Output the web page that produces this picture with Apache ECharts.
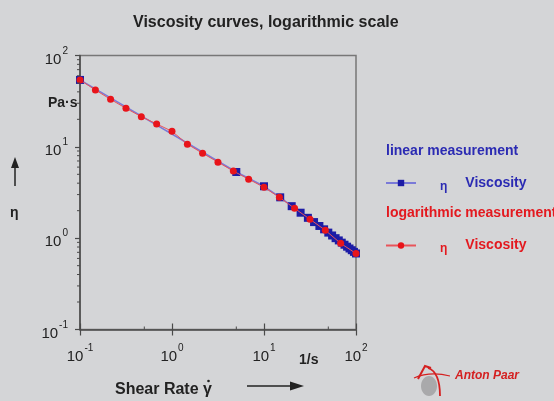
<!DOCTYPE html>
<html>
<head>
<meta charset="utf-8">
<script src="https://cdn.jsdelivr.net/npm/echarts@6/dist/echarts.min.js"></script>
<style>
html,body{margin:0;padding:0;background:#d4d5d7;}
#chart{width:554px;height:401px;}
</style>
</head>
<body>
<div id="chart"></div>
<script>
// logarithmic measurement (6 points per decade)
const xLog = [0.1, 0.147, 0.215, 0.316, 0.464, 0.681, 1, 1.47, 2.15, 3.16, 4.64, 6.81, 10, 14.7, 21.5, 31.6, 46.4, 68.1, 100];
const etaLog = [53.9, 41.9, 33.1, 26.4, 21.4, 17.8, 14.8, 10.7, 8.5, 6.8, 5.43, 4.43, 3.6, 2.8, 2.12, 1.61, 1.22, 0.877, 0.68];
// linear measurement
const xLin = [0.1, 5, 10, 15, 20, 25, 30, 35, 40, 45, 50, 55, 60, 65, 70, 75, 80, 85, 90, 95, 100];
const etaLin = [54, 5.3, 3.7, 2.8, 2.24, 1.90, 1.67, 1.50, 1.36, 1.25, 1.15, 1.07, 1.00, 0.945, 0.893, 0.848, 0.807, 0.771, 0.738, 0.708, 0.68];
// axis ticks
const decadeExponents = ['-1', '0', '1', '2']; // for 0.1, 1, 10, 100
const yMinorTicks = [0.2,0.3,0.4,0.5,0.6,0.7,0.8,0.9, 2,3,4,5,6,7,8,9, 20,30,40,50,60,70,80,90];
const xMinorTicks = [0.5, 5, 50];
const axisMin = 0.1, axisMax = 100;

const FONT = 'Liberation Sans, Arial, sans-serif';
const BLUE = '#1c1ca6', BLUE_TXT = '#2b2bb3', BLUE_LINE = '#7a7ad8';
const RED = '#e8141a', RED_TXT = '#e3191f', RED_LINE = '#e8545a';
const AX = '#4a4a4a';

function expLabel(v) {
  const i = Math.round(Math.log10(v)) + 1;
  return '{b|10}{s|' + decadeExponents[i] + '}';
}
const labelRich = {
  b: {fontSize: 15, fontFamily: FONT, color: '#222', padding: [8, 0, 0, 0]},
  s: {fontSize: 10, fontFamily: FONT, color: '#222', padding: [0, 0, 9, 1]}
};

const chart = echarts.init(document.getElementById('chart'));
const option = {
  backgroundColor: '#d4d5d7',
  animation: false,
  title: {
    text: 'Viscosity curves, logarithmic scale',
    left: 128, top: 10,
    textStyle: {fontSize: 16, fontWeight: 'bold', fontFamily: FONT, color: '#222'}
  },
  grid: {left: 80, right: 198, top: 55.5, bottom: 71.5, show: true, borderColor: '#777', borderWidth: 1.5, backgroundColor: 'transparent'},
  xAxis: [{
    type: 'log', logBase: 10, min: axisMin, max: axisMax,
    axisLine: {lineStyle: {color: AX, width: 1.5}},
    axisTick: {length: 6, lineStyle: {color: AX, width: 1.2}},
    splitLine: {show: false},
    axisLabel: {margin: 12, formatter: expLabel, rich: labelRich}
  }, {
    type: 'log', logBase: 10, min: axisMin, max: axisMax, position: 'bottom',
    axisLine: {show: false},
    axisTick: {inside: true, length: 6, lineStyle: {color: AX, width: 1.2}},
    axisLabel: {show: false}, splitLine: {show: false}
  }],
  yAxis: {
    type: 'log', logBase: 10, min: axisMin, max: axisMax,
    axisLine: {show: true, lineStyle: {color: AX, width: 1.5}},
    axisTick: {show: true, length: 5, lineStyle: {color: AX, width: 1.2}},
    splitLine: {show: false},
    axisLabel: {margin: 12, formatter: expLabel, rich: labelRich}
  },
  legend: {
    orient: 'vertical', left: 385, top: 176, padding: 0,
    itemWidth: 30, itemHeight: 8, itemGap: 46,
    selectedMode: false,
    data: [
      {name: 'lin', textStyle: {color: BLUE_TXT}},
      {name: 'log', textStyle: {color: RED_TXT}}
    ],
    formatter: function () { return '{e|η}{v|Viscosity}'; },
    textStyle: {
      fontFamily: FONT, fontSize: 13, fontWeight: 'bold',
      rich: {
        e: {fontSize: 12, fontFamily: FONT, padding: [7, 18, 0, 19]},
        v: {fontSize: 14, fontFamily: FONT, fontWeight: 'bold'}
      }
    }
  },
  series: [{
    name: 'lin', type: 'line',
    data: xLin.map((x, i) => [x, etaLin[i]]),
    symbol: 'rect', symbolSize: 8,
    itemStyle: {color: BLUE},
    lineStyle: {color: BLUE_LINE, width: 1.5},
    z: 3
  }, {
    name: 'log', type: 'line',
    data: xLog.map((x, i) => [x, etaLog[i]]),
    symbol: 'circle', symbolSize: 7,
    itemStyle: {color: RED},
    lineStyle: {color: RED_LINE, width: 1},
    z: 4
  }, {
    type: 'custom', silent: true, clip: false, z: 5,
    data: yMinorTicks.map(v => [axisMin, v]),
    renderItem: function (params, api) {
      const p = api.coord([api.value(0), api.value(1)]);
      return {type: 'line', shape: {x1: p[0] - 3, y1: p[1], x2: p[0], y2: p[1]}, style: {stroke: AX, lineWidth: 1}};
    }
  }, {
    type: 'custom', silent: true, clip: false, z: 5,
    data: xMinorTicks.map(v => [v, axisMin]),
    renderItem: function (params, api) {
      const p = api.coord([api.value(0), api.value(1)]);
      return {type: 'line', shape: {x1: p[0], y1: p[1] - 3, x2: p[0], y2: p[1]}, style: {stroke: AX, lineWidth: 1}};
    }
  }],
  graphic: [
    {type: 'text', left: 48, top: 96, style: {text: 'Pa·s', font: 'bold 14px ' + FONT, fill: '#222'}},
    {type: 'text', left: 10, top: 206, style: {text: 'η', font: 'bold 14px ' + FONT, fill: '#222'}},
    {type: 'line', shape: {x1: 15, y1: 186, x2: 15, y2: 166}, style: {stroke: '#222', lineWidth: 1.5}},
    {type: 'polygon', shape: {points: [[15, 157], [11, 168], [19, 168]]}, style: {fill: '#222'}},
    {type: 'text', left: 299, top: 353, style: {text: '1/s', font: 'bold 14px ' + FONT, fill: '#222'}},
    {type: 'text', left: 115, top: 382, style: {text: 'Shear Rate γ', font: 'bold 16px ' + FONT, fill: '#222'}},
    {type: 'circle', shape: {cx: 208.5, cy: 381, r: 1.3}, style: {fill: '#222'}},
    {type: 'line', shape: {x1: 247, y1: 386, x2: 292, y2: 386}, style: {stroke: '#222', lineWidth: 1.5}},
    {type: 'polygon', shape: {points: [[304, 386], [290, 381.5], [290, 390.5]]}, style: {fill: '#222'}},
    {type: 'text', left: 386, top: 144, style: {text: 'linear measurement', font: 'bold 14px ' + FONT, fill: BLUE_TXT}},
    {type: 'text', left: 386, top: 206, style: {text: 'logarithmic measurement', font: 'bold 14px ' + FONT, fill: RED_TXT}},
    // Anton Paar logo
    {type: 'ellipse', shape: {cx: 429, cy: 386, rx: 8, ry: 10}, style: {fill: '#a9a9ab'}},
    {type: 'polyline', shape: {points: [[418, 379], [425, 366], [431, 368]]}, style: {stroke: '#d42020', lineWidth: 2, fill: null}},
    {type: 'bezierCurve', shape: {x1: 428, y1: 368, x2: 440, y2: 396, cpx1: 440, cpy1: 372}, style: {stroke: '#d42020', lineWidth: 1.8, fill: null}},
    {type: 'bezierCurve', shape: {x1: 414, y1: 378, x2: 450, y2: 376, cpx1: 430, cpy1: 371}, style: {stroke: '#d42020', lineWidth: 1.2, fill: null}},
    {type: 'text', left: 455, top: 370, style: {text: 'Anton Paar', font: 'italic bold 12px ' + FONT, fill: '#d42020'}}
  ]
};
chart.setOption(option);
</script>
</body>
</html>
